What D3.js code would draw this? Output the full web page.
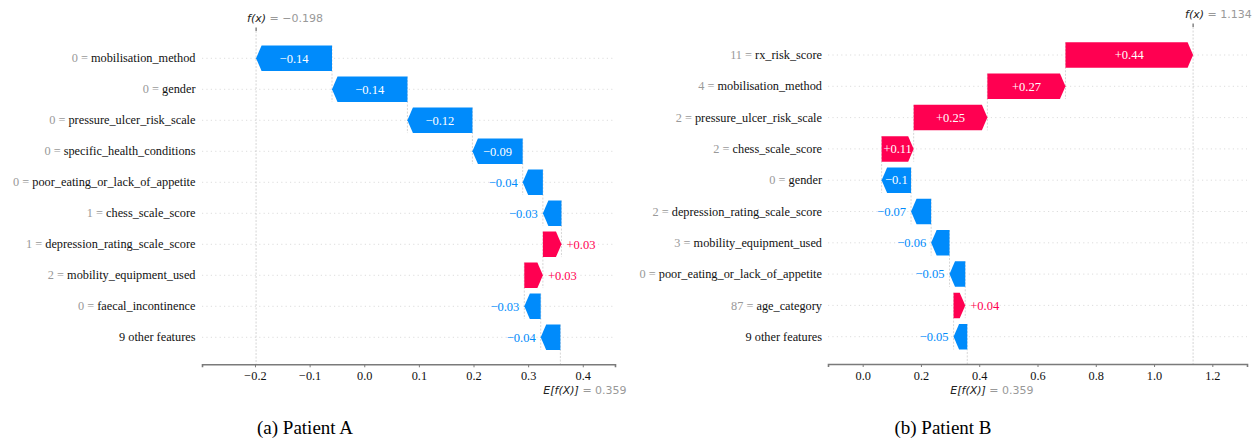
<!DOCTYPE html>
<html>
<head>
<meta charset="utf-8">
<script src="https://cdn.jsdelivr.net/npm/d3@7"></script>
<style>
  html, body { margin: 0; padding: 0; background: #fff; }
  svg { display: block; }
</style>
</head>
<body>
<svg id="chart" width="1258" height="443"></svg>
<script>
// Patient A: SHAP contributions, top row first
const featuresA = ["mobilisation_method", "gender", "pressure_ulcer_risk_scale",
  "specific_health_conditions", "poor_eating_or_lack_of_appetite", "chess_scale_score",
  "depression_rating_scale_score", "mobility_equipment_used", "faecal_incontinence",
  "9 other features"];
const featureValuesA = ["0", "0", "0", "0", "0", "1", "1", "2", "0", ""];
const shapA = [-0.139, -0.138, -0.119, -0.092, -0.037, -0.034, 0.034, 0.034, -0.030, -0.036];
const baseA = 0.359;
const ticksA = [-0.2, -0.1, 0.0, 0.1, 0.2, 0.3, 0.4];

// Patient B
const featuresB = ["rx_risk_score", "mobilisation_method", "pressure_ulcer_risk_scale",
  "chess_scale_score", "gender", "depression_rating_scale_score", "mobility_equipment_used",
  "poor_eating_or_lack_of_appetite", "age_category", "9 other features"];
const featureValuesB = ["11", "4", "2", "2", "0", "2", "3", "0", "87", ""];
const shapB = [0.438, 0.268, 0.253, 0.110, -0.101, -0.069, -0.063, -0.054, 0.040, -0.047];
const baseB = 0.359;
const ticksB = [0.0, 0.2, 0.4, 0.6, 0.8, 1.0, 1.2];

const captions = ["(a) Patient A", "(b) Patient B"];

const RED = "#ff0051", BLUE = "#008bfb";
const SERIF = "'Liberation Serif', 'Times New Roman', serif";
const SANS = "'DejaVu Sans', sans-serif";
const MINUS = "\u2212";

const svg = d3.select("#chart");

function fmtShap(v) {
  let s = Math.abs(v).toFixed(2).replace(/0+$/, "").replace(/\.$/, "");
  return (v < 0 ? MINUS : "+") + s;
}

function waterfall(cfg) {
  const { features, fvals, shap, base, ticks } = cfg;
  const n = features.length;
  const g = svg.append("g");

  const x = d3.scaleLinear().domain(cfg.domain).range([cfg.left, cfg.right]);
  const y = d3.scaleLinear().domain([0, n - 1]).range([cfg.rowTop, cfg.rowBottom]);
  const h = cfg.barH;

  // cumulative positions, built from the bottom row upward
  const starts = new Array(n), ends = new Array(n);
  let acc = base;
  for (let i = n - 1; i >= 0; i--) {
    starts[i] = acc;
    acc += shap[i];
    ends[i] = acc;
  }
  const fx = acc;

  // horizontal row guides
  g.selectAll("line.row").data(d3.range(n)).join("line")
    .attr("x1", cfg.left).attr("x2", cfg.right)
    .attr("y1", i => y(i)).attr("y2", i => y(i))
    .attr("stroke", "#d4d4d4").attr("stroke-width", 0.8)
    .attr("stroke-dasharray", "1.2,3.2");

  // connectors between consecutive bars
  g.selectAll("line.conn").data(d3.range(n - 1)).join("line")
    .attr("x1", i => x(starts[i])).attr("x2", i => x(starts[i]))
    .attr("y1", i => y(i) - h / 2).attr("y2", i => y(i + 1) + h / 2)
    .attr("stroke", "#c4c4c4").attr("stroke-width", 0.7)
    .attr("stroke-dasharray", "2,1.5");

  // expected value line (bottom) and f(x) line (full height)
  g.append("line")
    .attr("x1", x(base)).attr("x2", x(base))
    .attr("y1", y(n - 1) - h / 2).attr("y2", cfg.axisY)
    .attr("stroke", "#c4c4c4").attr("stroke-width", 0.7).attr("stroke-dasharray", "2,1.5");
  g.append("line")
    .attr("x1", x(fx)).attr("x2", x(fx))
    .attr("y1", cfg.topTickY).attr("y2", cfg.axisY)
    .attr("stroke", "#c4c4c4").attr("stroke-width", 0.7).attr("stroke-dasharray", "2,1.5");
  g.append("line")
    .attr("x1", x(fx)).attr("x2", x(fx))
    .attr("y1", cfg.topTickY - 3.5).attr("y2", cfg.topTickY)
    .attr("stroke", "#333").attr("stroke-width", 0.9);

  // arrows
  const hl = 5.5;
  function arrowPath(i) {
    const a = x(starts[i]), b = x(ends[i]);
    const yc = y(i), t = yc - h / 2, bt = yc + h / 2;
    const w = Math.abs(b - a);
    const head = Math.min(hl, w);
    if (b >= a) {
      return `M${a},${t}L${b - head},${t}L${b},${yc}L${b - head},${bt}L${a},${bt}Z`;
    } else {
      return `M${a},${t}L${b + head},${t}L${b},${yc}L${b + head},${bt}L${a},${bt}Z`;
    }
  }
  g.selectAll("path.bar").data(d3.range(n)).join("path")
    .attr("d", arrowPath)
    .attr("fill", i => shap[i] >= 0 ? RED : BLUE);

  // value labels: inside if they fit, otherwise beside the arrow tip
  d3.range(n).forEach(i => {
    const a = x(starts[i]), b = x(ends[i]);
    const w = Math.abs(b - a);
    const txt = g.append("text")
      .attr("font-family", SERIF).attr("font-size", 12.5)
      .attr("y", y(i)).attr("dy", "0.34em")
      .text(fmtShap(shap[i]));
    const tw = txt.node().getComputedTextLength();
    if (tw + 3 <= w) {
      txt.attr("x", (a + b) / 2).attr("text-anchor", "middle").attr("fill", "#fff");
    } else if (shap[i] >= 0) {
      txt.attr("x", b + 5).attr("text-anchor", "start").attr("fill", RED);
    } else {
      txt.attr("x", b - 5).attr("text-anchor", "end").attr("fill", BLUE);
    }
  });

  // feature labels
  d3.range(n).forEach(i => {
    const t = g.append("text")
      .attr("x", cfg.labelRight).attr("y", y(i)).attr("dy", "0.34em")
      .attr("text-anchor", "end")
      .attr("font-family", SERIF).attr("font-size", 12.3);
    if (fvals[i] !== "") {
      t.append("tspan").attr("fill", "#999").text(fvals[i] + " = ");
    }
    t.append("tspan").attr("fill", "#111").text(features[i]);
  });

  // bottom axis
  const axis = d3.axisBottom(x).tickValues(ticks).tickFormat(d3.format(".1f")).tickSize(3).tickPadding(4);
  const ag = g.append("g").attr("transform", `translate(0,${cfg.axisY})`).call(axis);
  ag.select(".domain").attr("stroke", "#7a7a7a").attr("stroke-width", 1.6);
  ag.selectAll(".tick line").attr("stroke", "#7a7a7a");
  ag.selectAll(".tick text").attr("font-family", SERIF).attr("font-size", 12.3).attr("fill", "#111");

  // f(x) label on top
  const ft = g.append("text")
    .attr("x", x(fx) - cfg.fxShift).attr("y", cfg.fxLabelY).attr("dy", "0.35em")
    .attr("font-family", SANS).attr("font-size", 11);
  ft.append("tspan").attr("font-style", "italic").attr("fill", "#222").text("f(x)");
  ft.append("tspan").attr("fill", "#999").text(" = " + d3.format(".3f")(fx));

  // E[f(X)] label below
  const et = g.append("text")
    .attr("x", x(base) - cfg.eShift).attr("y", cfg.eLabelY).attr("dy", "0.35em")
    .attr("font-family", SANS).attr("font-size", 11);
  et.append("tspan").attr("font-style", "italic").attr("fill", "#222").text("E[f(X)]");
  et.append("tspan").attr("fill", "#999").text(" = " + d3.format(".3f")(base));

  // caption
  svg.append("text")
    .attr("x", cfg.captionX).attr("y", 434)
    .attr("text-anchor", "middle")
    .attr("font-family", SERIF).attr("font-size", 19).attr("fill", "#000")
    .text(cfg.caption);
}

waterfall({
  features: featuresA, fvals: featureValuesA, shap: shapA, base: baseA, ticks: ticksA,
  domain: [-0.297, 0.459], left: 202, right: 615,
  rowTop: 58.3, rowBottom: 337.3, barH: 25.5, axisY: 364.3,
  topTickY: 31, fxLabelY: 18, fxShift: 9, eLabelY: 390, eShift: 17,
  labelRight: 195.5, caption: captions[0], captionX: 305
});

waterfall({
  features: featuresB, fvals: featureValuesB, shap: shapB, base: baseB, ticks: ticksB,
  domain: [-0.119, 1.319], left: 828, right: 1247,
  rowTop: 55, rowBottom: 336.7, barH: 25.5, axisY: 364,
  topTickY: 27, fxLabelY: 14, fxShift: 8, eLabelY: 390, eShift: 17,
  labelRight: 822, caption: captions[1], captionX: 943
});
</script>
</body>
</html>
